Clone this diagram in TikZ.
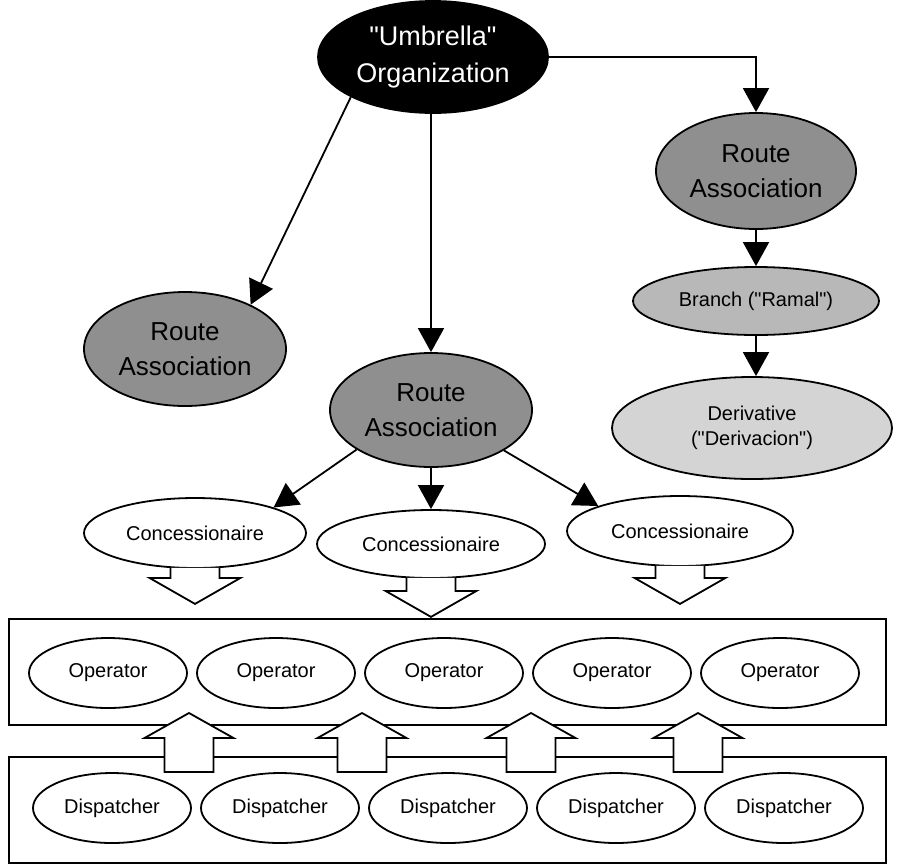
\documentclass[tikz,border=0pt]{standalone}
\usepackage{fontspec}
\setmainfont{Liberation Sans}[Ligatures=TeXOff]
\usetikzlibrary{shapes.geometric,arrows.meta}
\definecolor{assocgray}{gray}{0.56}
\definecolor{branchgray}{gray}{0.72}
\definecolor{derivgray}{gray}{0.83}
\begin{document}
\begin{tikzpicture}[x=1pt,y=-1pt,
  ov/.style={ellipse, draw=black, line width=1.8pt, inner sep=0pt, align=center, fill=white},
  bigtxt/.style={font=\fontsize{26}{35}\selectfont},
  smalltxt/.style={font=\fontsize{20}{25}\selectfont},
  assoc/.style={ov, bigtxt, fill=assocgray, minimum width=202pt, minimum height=114pt},
  conc/.style={ov, smalltxt, minimum width=222pt, minimum height=70pt},
  oper/.style={ov, smalltxt, minimum width=158pt, minimum height=70pt},
  conn/.style={line width=1.8pt, -{Triangle[length=24pt,width=26pt]}},
  hollow/.style={draw=black, line width=1.8pt, fill=white, line join=miter},
  frame/.style={draw=black, line width=2pt, rectangle, inner sep=0pt, minimum width=877pt, minimum height=106pt}
]
\useasboundingbox (0,0) rectangle (901,865);

% organisation hierarchy
\node[ov, bigtxt, fill=black, text=white, minimum width=230pt, minimum height=112pt,
      font=\fontsize{27}{37}\selectfont] (umb) at (433,57) {"Umbrella"\\Organization};
\node[assoc] (ra1) at (185,349) {Route\\Association};
\node[assoc] (ra2) at (431,410) {Route\\Association};
\node[assoc, minimum width=200pt, minimum height=116pt] (ra3) at (756,171) {Route\\Association};
\node[ov, smalltxt, fill=branchgray, minimum width=246pt, minimum height=68pt] (br) at (756,301) {Branch ("Ramal")};
\node[ov, smalltxt, fill=derivgray, minimum width=280pt, minimum height=102pt] (der) at (752,428) {Derivative\\("Derivacion")};

\draw[conn] (umb.206) -- (ra1.34);
\draw[conn] (umb.south -| ra2.north) -- (ra2.north);
\draw[conn] (umb.east) -| (ra3.north);
\draw[conn] (ra3.south) -- (br.north);
\draw[conn] (br.south) -- (br.south |- der.north);

% concessionaires
\node[conc] (c1) at (195,533) {Concessionaire};
\node[conc, minimum width=228pt, minimum height=68pt] (c2) at (431,544) {Concessionaire};
\node[conc, minimum width=226pt] (c3) at (680,531) {Concessionaire};

\draw[conn] (ra2.208) -- (c1.18);
\draw[conn] (ra2.south) -- (c2.north);
\draw[conn] (ra2.331) -- (c3.163);

% operator and dispatcher layers
\node[frame] (opbox) at (447.5,672) {};
\node[frame] (dispbox) at (447.5,809.5) {};

\foreach \i/\x in {1/108,2/276,3/444,4/612,5/780}
  \node[oper] (op\i) at (\x,673) {Operator};
\foreach \i/\x in {1/112,2/280,3/448,4/616,5/784}
  \node[oper] (dp\i) at (\x,808) {Dispatcher};

% hollow block arrows: concessionaires down to operators
\foreach \c/\h in {c1/9, c2/12, c3/11}
  \draw[hollow, shift={(\c.south)}]
    (-24.5,-1) -- (-24.5,\h) -- (-45.5,\h) -- (0,\h+26) -- (45.5,\h) -- (24.5,\h) -- (24.5,-1);

% hollow block arrows: dispatchers up to operators
\foreach \n/\x in {1/189,2/362,3/531,4/698}
  \coordinate (up\n) at (\x,713);
\foreach \n in {1,2,3,4}
  \draw[hollow, shift={(up\n)}]
    (0,0) -- (44.5,25) -- (24.5,25) -- (24.5,59) -- (-24.5,59) -- (-24.5,25) -- (-44.5,25) -- cycle;
\end{tikzpicture}
\end{document}
